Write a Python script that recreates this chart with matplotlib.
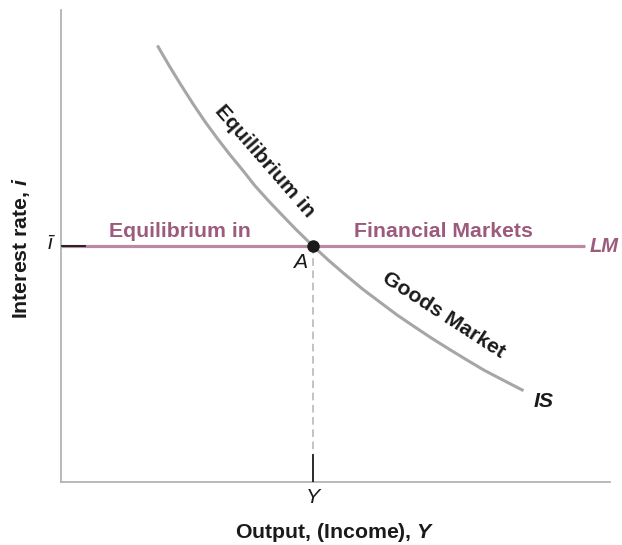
import matplotlib
matplotlib.use("Agg")
import matplotlib.pyplot as plt

plt.rcParams['font.family'] = ['Liberation Sans', 'DejaVu Sans']
plt.rcParams['mathtext.fontset'] = 'custom'
plt.rcParams['mathtext.it'] = 'Liberation Sans:italic:bold'
plt.rcParams['mathtext.rm'] = 'Liberation Sans:bold'

# IS curve
is_x = [1.77, 1.97, 2.17, 2.40, 2.62, 2.86, 3.08, 3.32, 3.53, 3.77, 3.99, 4.28, 4.59,
        4.88, 5.17, 5.48, 5.81, 6.12, 6.45, 6.76, 7.09, 7.40, 7.72, 8.05, 8.40]
is_y = [9.22, 8.82, 8.44, 8.02, 7.64, 7.26, 6.93, 6.59, 6.28, 5.97, 5.70, 5.35, 5.00,
        4.69, 4.40, 4.10, 3.81, 3.54, 3.28, 3.04, 2.80, 2.58, 2.36, 2.16, 1.95]
# LM line
lm_x = [0.0, 9.55]
i_bar = 5.0
# equilibrium output
y_eq = 4.59

LM_LINE = '#bb8aa2'
LM_TEXT = '#9c5a7c'
IS_COL = '#a6a6a6'

fig = plt.figure(figsize=(6.22, 5.45), dpi=100)
ax = fig.add_axes([61/622, 63/545, 549/622, 472/545])
ax.set_xlim(0, 10)
ax.set_ylim(0, 10)
for s in ['top', 'right']:
    ax.spines[s].set_visible(False)
for s in ['left', 'bottom']:
    ax.spines[s].set_color('#b3b3b3')
    ax.spines[s].set_linewidth(1.3)
ax.set_xticks([])
ax.set_yticks([])

# LM
ax.plot(lm_x, [i_bar, i_bar], color=LM_LINE, lw=2.3, solid_capstyle='butt', zorder=2)
ax.plot([0.02, 0.44], [i_bar, i_bar], color='#1a1a1a', lw=1.3, zorder=3)
# IS
ax.plot(is_x, is_y, color=IS_COL, lw=2.2, zorder=3, solid_joinstyle='round')
# dashed vertical
ax.plot([y_eq, y_eq], [i_bar, 0.57], color='#b3b3b3', lw=1.1, ls=(0, (5, 3)), zorder=1)
ax.plot([y_eq, y_eq], [0.57, 0.0], color='#1a1a1a', lw=1.3, zorder=3)
# point A
ax.plot([y_eq], [i_bar], 'o', color='#1a1a1a', ms=8, zorder=5)

fs = 15.3
ax.text(2.17, 5.19, 'Equilibrium in', color=LM_TEXT, fontsize=fs, fontweight='bold',
        ha='center', va='baseline')
ax.text(6.96, 5.19, 'Financial Markets', color=LM_TEXT, fontsize=fs, fontweight='bold',
        ha='center', va='baseline')
ax.text(9.63, 4.87, 'LM', color=LM_TEXT, fontsize=14.5, fontweight='bold', style='italic',
        ha='left', va='baseline', clip_on=False)
ax.text(4.35, 4.66, 'A', color='#1a1a1a', fontsize=fs, style='italic', ha='center', va='center')
ax.text(3.71, 6.80, 'Equilibrium in', color='#1a1a1a', fontsize=fs, fontweight='bold',
        rotation=-49, rotation_mode='anchor', ha='center', va='center')
ax.text(6.97, 3.54, 'Goods Market', color='#1a1a1a', fontsize=fs, fontweight='bold',
        rotation=-33, rotation_mode='anchor', ha='center', va='center')
ax.text(8.80, 1.59, 'IS', color='#1a1a1a', fontsize=fs, fontweight='bold', style='italic',
        ha='center', va='baseline')
ax.text(y_eq, -0.32, 'Y', color='#1a1a1a', fontsize=fs, style='italic',
        ha='center', va='center', clip_on=False)
ax.text(-0.2, 5.06, 'ī', color='#1a1a1a', fontsize=fs, style='italic',
        ha='center', va='center', clip_on=False)

fig.text(335/622, (545-533)/545, r'Output, (Income), $Y$', fontsize=fs, fontweight='bold',
         color='#1a1a1a', ha='center', va='center')
fig.text(21.5/622, (545-248)/545, r'Interest rate, $i$', fontsize=fs, fontweight='bold',
         color='#1a1a1a', ha='center', va='center', rotation=90)

fig.savefig('out.png', dpi=100)
